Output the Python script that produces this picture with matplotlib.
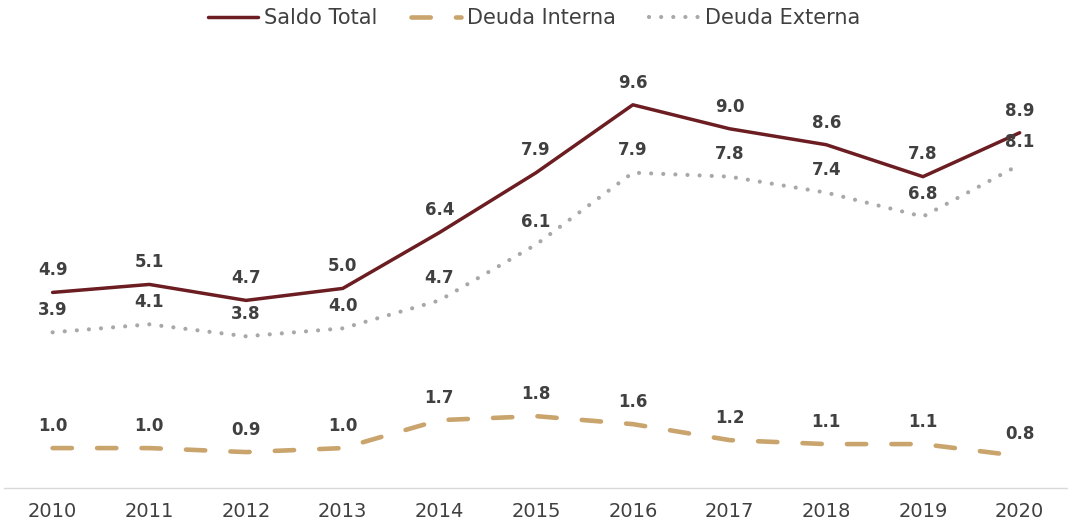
import matplotlib
matplotlib.use("Agg")
from matplotlib import pyplot as plt

years = ["2010", "2011", "2012", "2013", "2014", "2015", "2016", "2017", "2018", "2019", "2020"]
saldo_total = [4.9, 5.1, 4.7, 5.0, 6.4, 7.9, 9.6, 9.0, 8.6, 7.8, 8.9]
deuda_interna = [1.0, 1.0, 0.9, 1.0, 1.7, 1.8, 1.6, 1.2, 1.1, 1.1, 0.8]
deuda_externa = [3.9, 4.1, 3.8, 4.0, 4.7, 6.1, 7.9, 7.8, 7.4, 6.8, 8.1]

c_saldo = "#6B1D22"
c_interna = "#C9A46C"
c_externa = "#A8A8A8"
c_text = "#404040"

plt.rcParams["font.family"] = ["DejaVu Sans"]

fig = plt.figure(figsize=(10.68, 5.29), dpi=100)
ax = fig.add_axes([0.004, 0.0775, 0.996, 0.83])
x = list(range(len(years)))

ax.plot(x, saldo_total, color=c_saldo, lw=2.5, solid_capstyle="round",
        solid_joinstyle="round", label="Saldo Total", zorder=3)
ax.plot(x, deuda_interna, color=c_interna, lw=3.3, dash_capstyle="round",
        dashes=(4.2, 5.5), label="Deuda Interna", zorder=3)
ax.plot(x, deuda_externa, color=c_externa, lw=3.0, dash_capstyle="round",
        dashes=(0.01, 2.9), label="Deuda Externa", zorder=3)

# etiquetas de datos encima de cada punto
for serie in (saldo_total, deuda_interna, deuda_externa):
    for i, v in zip(x, serie):
        ax.annotate(f"{v:.1f}", (i, v), xytext=(0, 9.5), textcoords="offset points",
                    ha="center", va="bottom", fontsize=12, fontweight="bold",
                    color=c_text)

ax.set_xlim(-0.5, len(years) - 0.5)
ax.set_ylim(0, 11)
ax.set_xticks(x)
ax.set_xticklabels(years, fontsize=14, color=c_text)
ax.set_yticks([])
for s in ("top", "right", "left"):
    ax.spines[s].set_visible(False)
ax.spines["bottom"].set_color("#D9D9D9")
ax.spines["bottom"].set_linewidth(1.0)
ax.tick_params(axis="x", length=0, pad=10)

fig.legend(loc="upper center", bbox_to_anchor=(0.5, 1.02), ncol=3, frameon=False,
           fontsize=15, handlelength=2.4, handletextpad=0.3, columnspacing=1.6,
           labelcolor=c_text)

fig.savefig("out.png", dpi=100)
